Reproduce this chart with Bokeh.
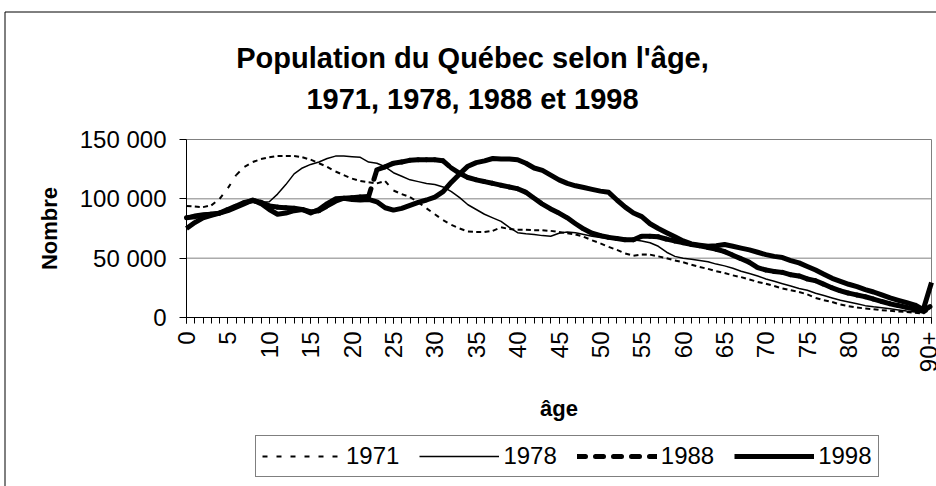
import math
from bokeh.plotting import figure
from bokeh.models import (Range1d, FixedTicker, Legend, LegendItem, Label,
                          BoxAnnotation, ColumnDataSource)
from bokeh.embed import file_html
from bokeh.resources import INLINE

# ---------------- data ----------------
ages = list(range(91))
x_tick_positions = list(range(0, 91, 5))
x_tick_labels = ["0", "5", "10", "15", "20", "25", "30", "35", "40", "45",
                 "50", "55", "60", "65", "70", "75", "80", "85", "90+"]
y_tick_positions = [0, 50000, 100000, 150000]
y_tick_labels = ["0", "50 000", "100 000", "150 000"]
years = ["1971", "1978", "1988", "1998"]
title_lines = ["Population du Québec selon l'âge,", "1971, 1978, 1988 et 1998"]

pop_1971 = [94000, 93500, 93000, 94500, 100000, 109000, 120000, 127000, 131000, 133500,
            135000, 136000, 136000, 136000, 135000, 133000, 130000, 127000, 123000, 120000,
            117000, 115000, 114000, 113000, 115000, 107000, 104000, 101500, 97000, 92000,
            87000, 82000, 78000, 75000, 72500, 72000, 72000, 73000, 76000, 74500,
            74000, 74000, 73500, 73500, 73000, 72000, 71000, 70000, 68000, 65000,
            62500, 59500, 57000, 54000, 52000, 53000, 53000, 51500, 50000, 48000,
            46500, 44500, 42500, 41000, 39000, 37500, 35500, 34000, 32000, 30000,
            28500, 26500, 24500, 23000, 21500, 19500, 16500, 14500, 13000, 11000,
            9500, 8500, 7500, 7000, 6200, 5600, 5000, 4700, 4000, 3300,
            7500]

pop_1978 = [85000, 87000, 88000, 88500, 89000, 90000, 93000, 96000, 98000, 97000,
            97500, 104000, 112000, 121000, 126000, 129000, 131000, 134000, 136000, 136000,
            135500, 135000, 131000, 130000, 127000, 122000, 119000, 116000, 114500, 113000,
            112000, 110000, 106000, 101000, 95000, 91000, 87000, 84000, 81000, 76000,
            71500, 70500, 70000, 69000, 68500, 71000, 72000, 71500, 70000, 68500,
            67500, 66500, 66000, 65500, 65500, 64500, 63000, 60000, 55000, 51500,
            50000, 49000, 48000, 47000, 45000, 43500, 41500, 39000, 37000, 35000,
            32500, 30500, 28500, 26500, 24500, 23000, 20500, 18500, 16500, 14500,
            13000, 11500, 10000, 9000, 8300, 7300, 6300, 5400, 4700, 4000,
            9000]

pop_1988 = [84000, 85000, 86000, 87000, 88000, 91000, 94000, 97000, 98500, 97000,
            94000, 93000, 92500, 92000, 91000, 89000, 90000, 94000, 98000, 100500,
            101000, 101500, 102000, 124500, 127000, 130000, 131000, 132500, 133000, 133000,
            133000, 132000, 126000, 121500, 118000, 116000, 114500, 113000, 111500, 110000,
            108500, 105500, 100500, 95500, 91500, 88000, 84000, 79000, 74500, 71000,
            69000, 67500, 66500, 65500, 65500, 68500, 68500, 68000, 66000, 64500,
            63000, 61500, 60500, 59000, 57500, 55500, 52500, 49500, 46500, 42000,
            40000, 38800, 38000, 36000, 35000, 32500, 31000, 28000, 25000, 22500,
            20500, 19000, 17500, 15500, 13500, 11500, 10000, 8500, 7000, 5500,
            10000]

pop_1998 = [75000, 80000, 84000, 86000, 88000, 90000, 93000, 96000, 99000, 96000,
            91000, 87000, 88000, 90000, 91000, 88000, 91000, 96000, 100000, 100500,
            99500, 99000, 99500, 97500, 92500, 90500, 92000, 94500, 97000, 99000,
            101500, 106000, 114000, 121000, 127500, 130500, 132000, 134000, 133500, 133500,
            133000, 130000, 126000, 124000, 120000, 116000, 113000, 111000, 109500, 108000,
            106500, 105500, 99000, 93000, 88000, 85000, 79000, 75000, 71500, 68000,
            64500, 62000, 61000, 60000, 60500, 61500, 60000, 58500, 57000, 55000,
            53000, 51500, 50500, 48000, 46000, 43000, 40000, 36500, 33000, 30500,
            28000, 26000, 23500, 21500, 19000, 16500, 14500, 12500, 10500, 6500,
            29500]

FONT = "Liberation Sans"

# ---------------- layout geometry (canvas pixels) ----------------
W, H = 936, 486
PLOT_L, PLOT_R, PLOT_T, PLOT_B = 186, 931, 139, 317      # plot area in canvas px
X_MIN, X_MAX = ages[0], ages[-1]
Y_MIN, Y_MAX = y_tick_positions[0], y_tick_positions[-1]
ux = (PLOT_R - PLOT_L) / (X_MAX - X_MIN)                 # px per age unit
uy = (PLOT_B - PLOT_T) / (Y_MAX - Y_MIN)                 # px per person


def cx(px):  # canvas x pixel -> data x
    return X_MIN + (px - PLOT_L) / ux


def cy(py):  # canvas y pixel -> data y
    return Y_MIN + (PLOT_B - py) / uy


# the frame spans the whole canvas; axes are pinned inside it
p = figure(width=W, height=H,
           x_range=Range1d(cx(0), cx(W)), y_range=Range1d(cy(H), cy(0)),
           output_backend="svg", toolbar_location=None,
           min_border=0, min_border_left=0, min_border_right=0,
           min_border_top=0, min_border_bottom=0,
           background_fill_color="white", border_fill_color="white")
p.outline_line_color = None

# x axis pinned at y = 0
p.xaxis.fixed_location = Y_MIN
p.xaxis.bounds = (X_MIN, X_MAX)
p.xaxis.ticker = FixedTicker(ticks=x_tick_positions, minor_ticks=ages)
p.xaxis.major_label_overrides = {pos: lab for pos, lab in zip(x_tick_positions, x_tick_labels)}
p.xaxis.major_label_orientation = math.pi / 2
p.xaxis.major_tick_out = 6
p.xaxis.major_tick_in = 0
p.xaxis.minor_tick_out = 6
p.xaxis.minor_tick_in = 0
p.xaxis.major_label_standoff = 8
p.xaxis.axis_label = "âge"
p.xaxis.axis_label_standoff = 21
p.xaxis.axis_label_text_font = FONT
p.xaxis.axis_label_text_font_style = "bold"
p.xaxis.axis_label_text_font_size = "22px"
p.xaxis.major_label_text_font = FONT
p.xaxis.major_label_text_font_size = "24px"

# y axis pinned at x = 0
p.yaxis.fixed_location = X_MIN
p.yaxis.bounds = (Y_MIN, Y_MAX)
p.yaxis.ticker = FixedTicker(ticks=y_tick_positions, minor_ticks=[])
p.yaxis.major_label_overrides = {pos: lab for pos, lab in zip(y_tick_positions, y_tick_labels)}
p.yaxis.major_tick_out = 7
p.yaxis.major_tick_in = 0
p.yaxis.minor_tick_out = 0
p.yaxis.minor_tick_in = 0
p.yaxis.major_label_standoff = 13
p.yaxis.axis_label = "Nombre"
p.yaxis.axis_label_standoff = 15
p.yaxis.axis_label_text_font = FONT
p.yaxis.axis_label_text_font_style = "bold"
p.yaxis.axis_label_text_font_size = "22px"
p.yaxis.major_label_text_font = FONT
p.yaxis.major_label_text_font_size = "24px"

for ax in (p.xaxis, p.yaxis):
    ax.axis_line_color = "black"
    ax.major_tick_line_color = "black"
    ax.minor_tick_line_color = "black"
    ax.major_label_text_color = "black"
    ax.axis_label_text_color = "black"

# gridlines and the right edge, limited to the plot area
p.xgrid.visible = False
p.ygrid.visible = False
grid_levels = y_tick_positions[1:]
p.segment(x0=[X_MIN] * len(grid_levels), y0=grid_levels,
          x1=[X_MAX] * len(grid_levels), y1=grid_levels,
          line_color="#808080", line_width=1)
p.segment(x0=[X_MAX], y0=[Y_MIN], x1=[X_MAX], y1=[Y_MAX], line_color="#808080", line_width=1)

# ---------------- series ----------------
src71 = ColumnDataSource(dict(x0=ages[:-1], y0=pop_1971[:-1], x1=ages[1:], y1=pop_1971[1:]))
r71 = p.segment(x0="x0", y0="y0", x1="x1", y1="y1", source=src71,
                line_color="black", line_width=2, line_dash="5 9")

r78 = p.line(ages, pop_1978, line_color="black", line_width=1.5, line_join="round")

src88 = ColumnDataSource(dict(x0=ages[:-1], y0=pop_1988[:-1], x1=ages[1:], y1=pop_1988[1:]))
r88 = p.segment(x0="x0", y0="y0", x1="x1", y1="y1", source=src88,
                line_color="black", line_width=5, line_dash="8 10", line_cap="round")

r98 = p.line(ages, pop_1998, line_color="black", line_width=5, line_join="round")

# ---------------- legend (inside the canvas-wide frame) ----------------
legend = Legend(items=[LegendItem(label=years[0], renderers=[r71]),
                       LegendItem(label=years[1], renderers=[r78]),
                       LegendItem(label=years[2], renderers=[r88]),
                       LegendItem(label=years[3], renderers=[r98])],
                location=(255, H - 477), orientation="horizontal")
legend.border_line_color = "black"
legend.border_line_width = 1
legend.background_fill_color = "white"
legend.background_fill_alpha = 1
legend.label_text_font = FONT
legend.label_text_font_size = "24px"
legend.label_text_color = "black"
legend.glyph_width = 80
legend.glyph_height = 24
legend.label_height = 24
legend.label_standoff = 4
legend.spacing = 20
legend.padding = 6
legend.margin = 0
p.add_layout(legend)

# ---------------- titles ----------------
for txt, py in zip(title_lines, [57, 98]):
    p.add_layout(Label(x=cx(472), y=cy(py), text=txt,
                       text_font=FONT, text_font_style="bold", text_font_size="29px",
                       text_align="center", text_baseline="middle", text_color="black"))

# outer chart frame (its right and bottom edges fall outside the window)
p.add_layout(BoxAnnotation(left=cx(4.5), right=cx(W + 50), top=cy(11.5), bottom=cy(H + 50),
                           fill_alpha=0, line_color="black", line_alpha=1, line_width=1))

open("out.html", "w").write(file_html(p, INLINE))
